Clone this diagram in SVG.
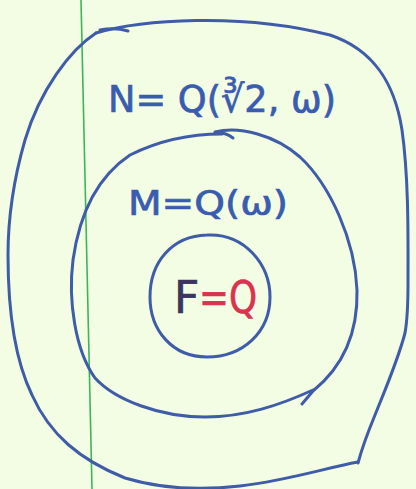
<svg xmlns="http://www.w3.org/2000/svg" width="416" height="489" viewBox="0 0 416 489">
  <style>
    .ink { fill: none; stroke: #3f5ca8; stroke-width: 3; stroke-linecap: round; stroke-linejoin: round; }
    .lbl { font-family: "DejaVu Sans", "Liberation Sans", sans-serif; fill: #3a5cb0; stroke: #3a5cb0; stroke-width: 0.7; }
    .fl { font-family: "DejaVu Sans", "Liberation Sans", sans-serif; font-size: 44px; stroke-width: 0.7; }
  </style>
  <rect x="0" y="0" width="416" height="489" fill="#f3fde3"/>
  <line x1="81" y1="0" x2="92" y2="489" stroke="#3cb55a" stroke-width="1.6"/>
  <g id="field-N">
    <path class="ink" d="M 96,33 C 140,20 240,12 330,35 C 375,50 395,85 402,130 C 409,180 408,240 408,283 C 408,305 407,322 405,333 C 398,360 385,390 375,415 C 368,432 362,448 358,463"/>
    <path class="ink" d="M 100,30 Q 115,27 128,31"/>
    <path class="ink" d="M 96,33 C 70,50 40,90 25,140 C 12,185 8,225 8,255 C 8,310 15,360 32,395 C 50,435 80,460 125,478 C 165,490 205,490 240,486 C 290,480 325,468 358,462"/>
    <text class="lbl" x="108" y="112" font-size="38" textLength="228" lengthAdjust="spacingAndGlyphs">N= Q(∛2, ω)</text>
  </g>
  <g id="field-M">
    <path class="ink" d="M 215,132 C 240,126 275,135 300,157 C 330,185 355,240 357,290 C 358,330 345,365 313,391 L 302,404"/>
    <path class="ink" d="M 233,138 Q 225,132 215,133"/>
    <path class="ink" d="M 222,134 C 190,134 160,140 130,155 C 100,175 80,210 73,260 C 68,300 75,350 95,378 C 115,400 160,417 205,417 C 245,417 280,405 313,390"/>
    <text class="lbl" x="128" y="215" font-size="34" textLength="160" lengthAdjust="spacingAndGlyphs">M=Q(ω)</text>
  </g>
  <g id="field-F">
    <path class="ink" d="M 207,235 C 245,233 270,265 270,297 C 270,332 243,357 207,357 C 172,357 150,330 150,297 C 150,262 172,236 207,235 Z"/>
    <text class="fl" x="174" y="313" fill="#3d3560" stroke="#3d3560">F</text>
    <text class="fl" x="199" y="313" fill="#d8334f" stroke="#d8334f" textLength="58" lengthAdjust="spacingAndGlyphs">=Q</text>
  </g>
  <g id="connectors"/>
</svg>
